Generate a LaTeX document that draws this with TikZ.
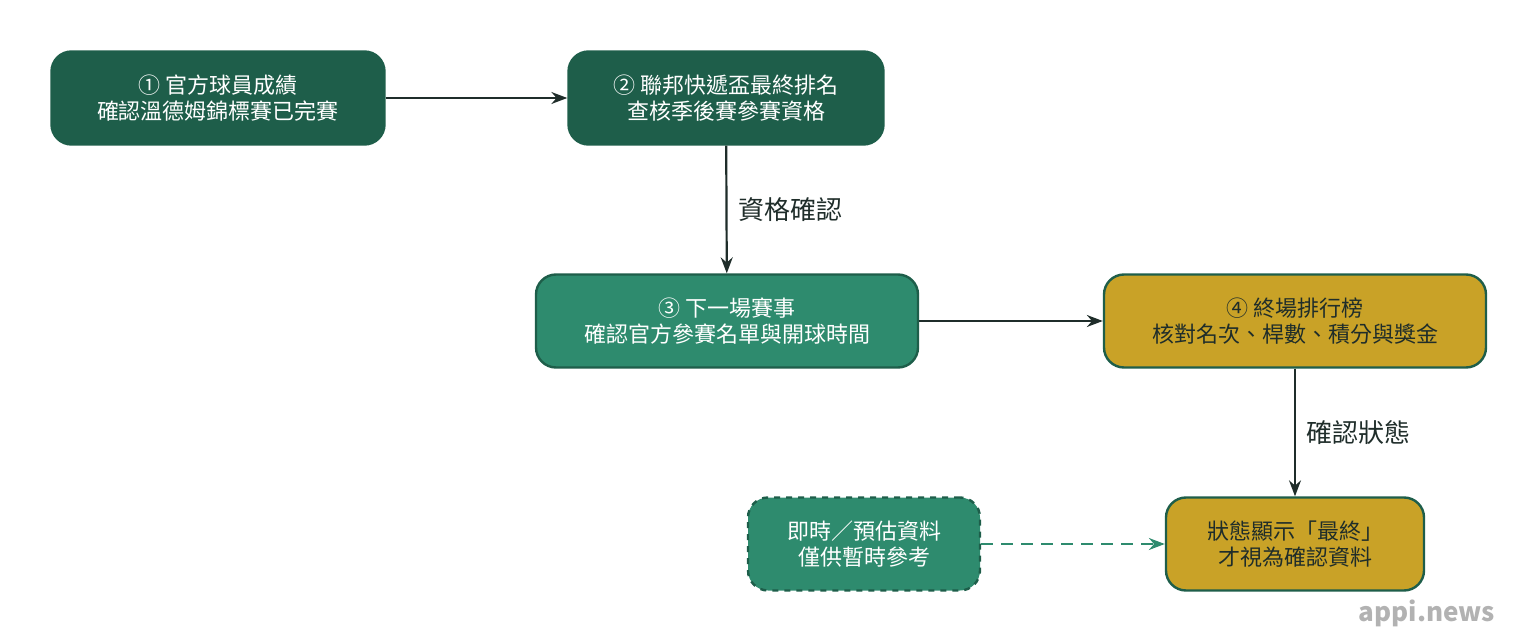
\documentclass[tikz,border=0pt]{standalone}
\usepackage{fontspec}
\setmainfont{Noto Sans CJK TC}
\usetikzlibrary{positioning}
\usetikzlibrary{arrows.meta}
\definecolor{darkgreen}{HTML}{1E5E4A}
\definecolor{midgreen}{HTML}{2E8B6E}
\definecolor{gold}{HTML}{C9A227}
\definecolor{edgeline}{HTML}{1F2D2A}

\begin{document}
\begin{tikzpicture}[%
  >={Stealth[scale=1.0]},
  x=0.5pt, y=-0.5pt,
  box/.style={rounded corners=10pt, draw=darkgreen, line width=1.2pt,
    text=white, align=center, font=\fontsize{11}{13}\selectfont,
    minimum height=46.5pt, inner sep=2pt},
  flow/.style={->, draw=edgeline, line width=1.1pt},
  lbl/.style={text=edgeline, font=\fontsize{13}{15}\selectfont},
]

  \useasboundingbox (0,0) rectangle (1538,642);

  \node[box, fill=darkgreen, minimum width=166.5pt] (s1) at (218,98)
    {① 官方球員成績\\確認溫德姆錦標賽已完賽};
  \node[box, fill=darkgreen, minimum width=157.5pt] (s2) at (726,98)
    {② 聯邦快遞盃最終排名\\查核季後賽參賽資格};
  \node[box, fill=midgreen, minimum width=191pt] (s3) at (727,321)
    {③ 下一場賽事\\確認官方參賽名單與開球時間};
  \node[box, fill=gold, text=edgeline, minimum width=191pt] (s4) at (1295,321)
    {④ 終場排行榜\\核對名次、桿數、積分與獎金};
  \node[box, fill=midgreen, dashed, minimum width=116pt] (live) at (864,544)
    {即時／預估資料\\僅供暫時參考};
  \node[box, fill=gold, text=edgeline, minimum width=129pt] (final) at (1295,544)
    {狀態顯示「最終」\\才視為確認資料};

  \draw[flow] (s1) -- (s2);
  \draw[flow] (s2) -- node[lbl, right=2pt] {資格確認} (s3);
  \draw[flow] (s3) -- (s4);
  \draw[flow] (s4) -- node[lbl, right=2pt] {確認狀態} (final);
  \draw[flow, draw=midgreen, dashed, dash pattern=on 6pt off 4pt] (live) -- (final);

  \node[text=black!30, font=\bfseries\fontsize{13}{15}\selectfont] (mark) at (1427,613) {appi.news};

\end{tikzpicture}
\end{document}
